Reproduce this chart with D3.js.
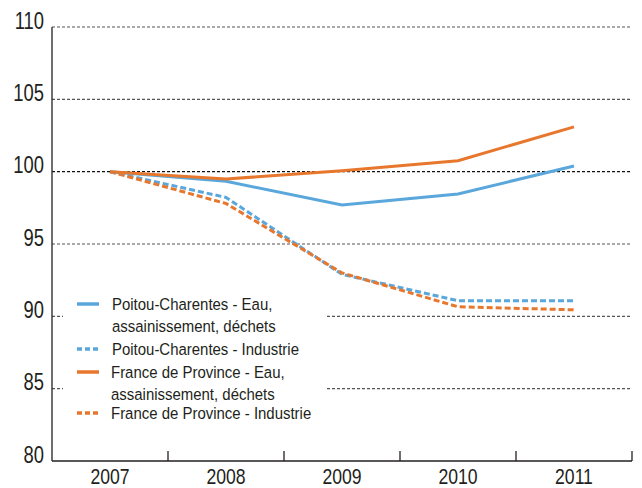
<!DOCTYPE html>
<html lang="fr">
<head>
<meta charset="UTF-8">
<title>Indices</title>
<style>
  body { margin: 0; background: #fff; font-family: "Liberation Sans", Arial, sans-serif; }
  .tick-label { font-size: 23px; fill: #231f20; }
  .x-label { font-size: 22px; }
  .legend text { font-size: 17px; fill: #231f20; }
</style>
<script src="https://d3js.org/d3.v7.min.js"></script>
</head>
<body>
<script>
  var years = ['2007', '2008', '2009', '2010', '2011'];
  var yTicks = [80, 85, 90, 95, 100, 105, 110];

  var poitouEau = [100, 99.33, 97.7, 98.46, 100.39];
  var poitouInd = [100, 98.22, 92.9, 91.08, 91.08];
  var franceEau = [100, 99.49, 100.07, 100.76, 103.1];
  var franceInd = [100, 97.8, 93.0, 90.66, 90.45];

  var blue = '#5aa7dc', orange = '#e8772e';

  var series = [
    {name: ['Poitou-Charentes - Eau,', 'assainissement, déchets'], values: poitouEau, color: blue, dash: null},
    {name: ['Poitou-Charentes - Industrie'], values: poitouInd, color: blue, dash: '6,3'},
    {name: ['France de Province - Eau,', 'assainissement, déchets'], values: franceEau, color: orange, dash: null},
    {name: ['France de Province - Industrie'], values: franceInd, color: orange, dash: '6,3'}
  ];

  var width = 642, height = 488;
  var m = {left: 52, right: 632, top: 27, bottom: 461};

  var svg = d3.select('body').append('svg')
    .attr('width', width)
    .attr('height', height);

  var x = d3.scaleBand().domain(years).range([m.left, m.right]).padding(0);
  var y = d3.scaleLinear().domain([80, 110]).range([m.bottom, m.top]);

  // narrow text like the original condensed font
  function squeeze(sx) {
    return function(px, py) { return 'translate(' + px + ',' + py + ') scale(' + sx + ',1)'; };
  }
  var tickT = squeeze(0.8), legT = squeeze(0.88);

  // grid lines
  svg.selectAll('.grid')
    .data(yTicks.filter(function(d){ return d > 80; }))
    .enter().append('line')
    .attr('class', 'grid')
    .attr('x1', m.left).attr('x2', m.right)
    .attr('y1', function(d){ return y(d); })
    .attr('y2', function(d){ return y(d); })
    .attr('stroke', function(d){ return d === 100 ? '#111' : '#555'; })
    .attr('stroke-width', 1.2)
    .attr('stroke-dasharray', '3,2');

  // y labels
  svg.selectAll('.ylab')
    .data(yTicks)
    .enter().append('text')
    .attr('class', 'tick-label')
    .attr('transform', function(d){ return tickT(44, y(d) + 1.5); })
    .attr('text-anchor', 'end')
    .text(function(d){ return d; });

  // x axis (ticks inward)
  var xAxis = svg.append('g')
    .attr('transform', 'translate(0,' + m.bottom + ')');
  xAxis.append('line')
    .attr('x1', m.left).attr('x2', m.right)
    .attr('stroke', '#231f20').attr('stroke-width', 1.3);
  xAxis.selectAll('.xt')
    .data(years)
    .enter().append('line')
    .attr('x1', function(d){ return x(d) + x.bandwidth(); })
    .attr('x2', function(d){ return x(d) + x.bandwidth(); })
    .attr('y1', 0).attr('y2', -10)
    .attr('stroke', '#231f20').attr('stroke-width', 1.3);
  xAxis.selectAll('.xlab')
    .data(years)
    .enter().append('text')
    .attr('class', 'tick-label x-label')
    .attr('transform', function(d){ return tickT(x(d) + x.bandwidth() / 2, 23); })
    .attr('text-anchor', 'middle')
    .text(function(d){ return d; });

  // y axis line
  svg.append('line')
    .attr('x1', m.left).attr('x2', m.left)
    .attr('y1', m.top).attr('y2', m.bottom)
    .attr('stroke', '#231f20').attr('stroke-width', 1.3);

  var line = d3.line()
    .x(function(d, i){ return x(years[i]) + x.bandwidth() / 2; })
    .y(function(d){ return y(d); });

  // draw industrie first, then eau
  [1, 3, 0, 2].forEach(function(k){
    var s = series[k];
    svg.append('path')
      .datum(s.values)
      .attr('d', line)
      .attr('fill', 'none')
      .attr('stroke', s.color)
      .attr('stroke-width', 3)
      .attr('stroke-dasharray', s.dash);
  });

  // legend
  var legend = svg.append('g').attr('class', 'legend');
  legend.append('rect')
    .attr('x', 63).attr('y', 290)
    .attr('width', 262).attr('height', 134)
    .attr('fill', '#fff');

  var rowY = [304, 349, 372, 413];
  series.forEach(function(s, i){
    var g = legend.append('g').attr('transform', 'translate(0,' + rowY[i] + ')');
    g.append('line')
      .attr('x1', 77).attr('x2', 99)
      .attr('stroke', s.color)
      .attr('stroke-width', 3.5)
      .attr('stroke-dasharray', s.dash ? '5,3' : null);
    s.name.forEach(function(t, j){
      g.append('text')
        .attr('transform', legT((i === 2 || i === 3) ? 111 : 112, 6 + j * 22))
        .text(t);
    });
  });
</script>
</body>
</html>
